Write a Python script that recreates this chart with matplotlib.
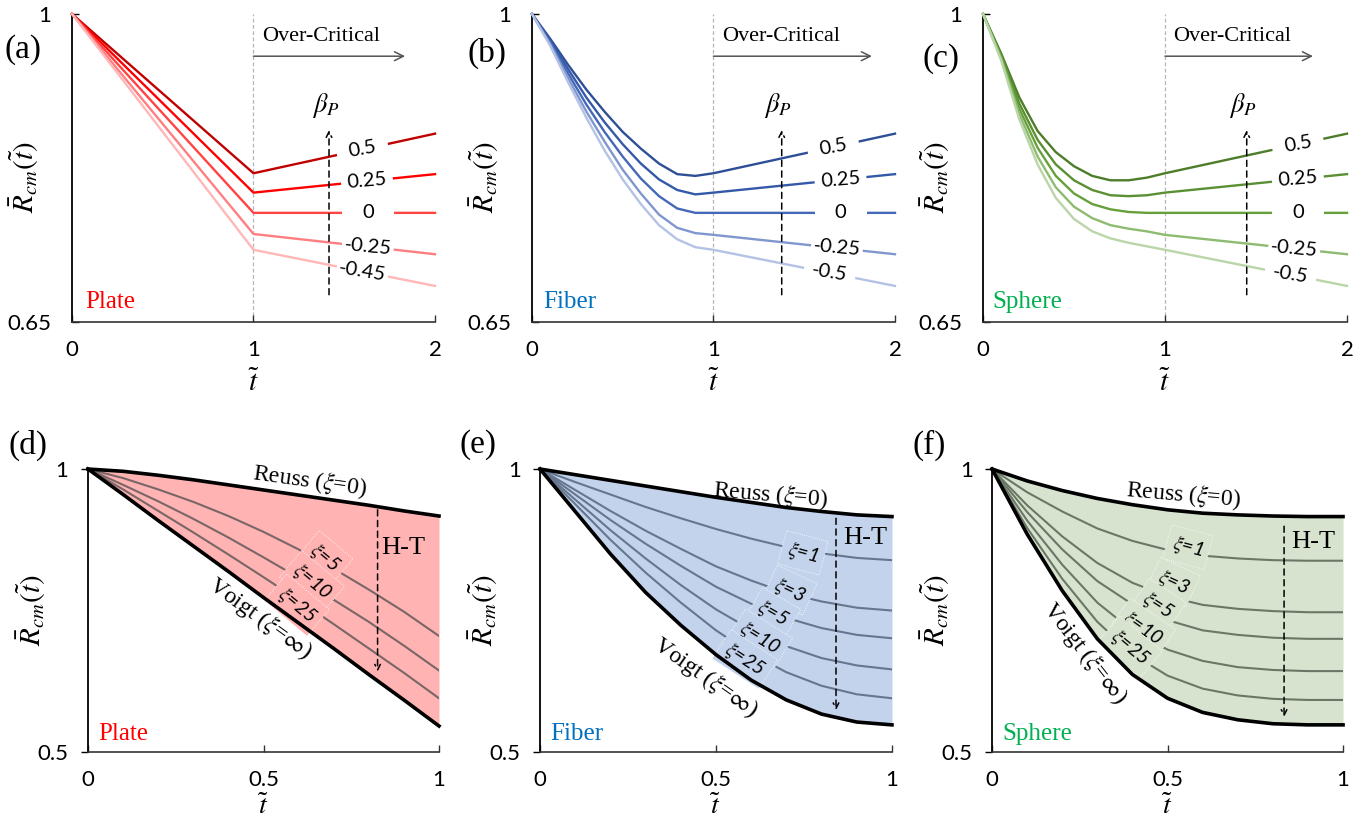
import numpy as np
import matplotlib.pyplot as plt
from matplotlib.path import Path

plt.rcParams['font.family'] = ['Lato', 'DejaVu Sans']
plt.rcParams['mathtext.fontset'] = 'stix'
SERIF = 'Liberation Serif'

# ---------------- top row: effect of beta_P ----------------
beta_plate = ['0.5', '0.25', '0', '-0.25', '-0.45']
beta_other = ['0.5', '0.25', '0', '-0.25', '-0.5']

t_plate = [0, 1, 2]
plate_beta_curves = [
    [1, 0.819, 0.864],
    [1, 0.797, 0.818],
    [1, 0.774, 0.774],
    [1, 0.750, 0.727],
    [1, 0.732, 0.691],
]

t_curve = [0, 0.1, 0.2, 0.3, 0.4, 0.5, 0.6, 0.7, 0.8, 0.9, 1.0, 2.0]
fiber_beta_curves = [
    [1, 0.972, 0.942, 0.914, 0.889, 0.866, 0.847, 0.830, 0.818, 0.816, 0.819, 0.864],
    [1, 0.970, 0.937, 0.905, 0.877, 0.852, 0.830, 0.812, 0.800, 0.795, 0.797, 0.818],
    [1, 0.968, 0.932, 0.897, 0.866, 0.838, 0.813, 0.793, 0.779, 0.774, 0.774, 0.774],
    [1, 0.966, 0.927, 0.889, 0.855, 0.823, 0.796, 0.772, 0.757, 0.751, 0.749, 0.727],
    [1, 0.964, 0.922, 0.882, 0.845, 0.812, 0.784, 0.760, 0.744, 0.735, 0.732, 0.691],
]
sphere_beta_curves = [
    [1, 0.955, 0.905, 0.867, 0.843, 0.827, 0.816, 0.811, 0.811, 0.814, 0.819, 0.864],
    [1, 0.953, 0.898, 0.857, 0.829, 0.811, 0.800, 0.794, 0.793, 0.794, 0.797, 0.818],
    [1, 0.951, 0.892, 0.848, 0.816, 0.796, 0.784, 0.778, 0.775, 0.774, 0.774, 0.774],
    [1, 0.949, 0.886, 0.838, 0.803, 0.781, 0.768, 0.760, 0.756, 0.753, 0.749, 0.727],
    [1, 0.947, 0.880, 0.829, 0.791, 0.767, 0.753, 0.745, 0.740, 0.736, 0.732, 0.691],
]

# ---------------- bottom row: Reuss / Voigt bounds ----------------
t_bound = [0, 0.1, 0.2, 0.3, 0.4, 0.5, 0.6, 0.7, 0.8, 0.9, 1.0]

plate_reuss = [1, 0.996, 0.989, 0.981, 0.972, 0.963, 0.954, 0.945, 0.936, 0.926, 0.917]
plate_voigt = [1, 0.955, 0.909, 0.864, 0.819, 0.773, 0.728, 0.683, 0.637, 0.592, 0.546]
plate_xi_names = ['5', '10', '25']
plate_xi = [
    [1, 0.984, 0.964, 0.942, 0.917, 0.889, 0.858, 0.824, 0.787, 0.748, 0.705],
    [1, 0.972, 0.943, 0.912, 0.879, 0.844, 0.808, 0.769, 0.730, 0.688, 0.644],
    [1, 0.964, 0.926, 0.888, 0.849, 0.809, 0.768, 0.726, 0.683, 0.640, 0.595],
]

fiber_reuss = [1, 0.990, 0.980, 0.970, 0.960, 0.950, 0.941, 0.932, 0.925, 0.919, 0.916]
fiber_voigt = [1, 0.925, 0.850, 0.782, 0.724, 0.672, 0.627, 0.592, 0.567, 0.553, 0.548]
fiber_xi_names = ['1', '3', '5', '10', '25']
fiber_xi = [
    [1, 0.977, 0.955, 0.933, 0.913, 0.894, 0.877, 0.862, 0.851, 0.843, 0.839],
    [1, 0.963, 0.926, 0.891, 0.859, 0.828, 0.803, 0.781, 0.766, 0.755, 0.750],
    [1, 0.955, 0.910, 0.868, 0.829, 0.792, 0.762, 0.737, 0.719, 0.707, 0.701],
    [1, 0.946, 0.892, 0.842, 0.795, 0.752, 0.716, 0.687, 0.666, 0.653, 0.646],
    [1, 0.938, 0.875, 0.817, 0.764, 0.715, 0.674, 0.641, 0.617, 0.602, 0.595],
]

sphere_reuss = [1, 0.979, 0.962, 0.948, 0.937, 0.928, 0.922, 0.919, 0.917, 0.916, 0.916]
sphere_voigt = [1, 0.885, 0.785, 0.700, 0.637, 0.595, 0.570, 0.557, 0.550, 0.548, 0.548]
sphere_xi_names = ['1', '3', '5', '10', '25']
sphere_xi = [
    [1, 0.959, 0.925, 0.895, 0.873, 0.857, 0.847, 0.842, 0.839, 0.838, 0.838],
    [1, 0.936, 0.881, 0.834, 0.799, 0.775, 0.760, 0.753, 0.749, 0.747, 0.747],
    [1, 0.924, 0.858, 0.802, 0.761, 0.733, 0.715, 0.707, 0.702, 0.700, 0.700],
    [1, 0.909, 0.831, 0.764, 0.714, 0.681, 0.661, 0.650, 0.645, 0.643, 0.643],
    [1, 0.896, 0.806, 0.730, 0.673, 0.635, 0.612, 0.600, 0.594, 0.592, 0.592],
]

red_shades = ['#C00000', '#FF0000', '#FF4444', '#FF7F80', '#FFB7B7']
blue_shades = ['#2E4F96', '#3459A8', '#4468B8', '#7F97CE', '#B4C2E4']
green_shades = ['#4E7D2A', '#5A8F33', '#66A03B', '#8DBB70', '#BAD5A7']


def gap_box(x0, y0, width, height, mutation_size):
    # fixed-width white box that breaks the line behind a label
    cx = x0 + width / 2
    half = 26
    return Path([(cx - half, y0 + 3), (cx + half, y0 + 3),
                 (cx + half, y0 + height - 3), (cx - half, y0 + height - 3),
                 (cx - half, y0 + 3)], closed=True)


fig = plt.figure(figsize=(13.71, 8.21), dpi=100)


def style_axes(ax, xticks, xlabels, yticks, ylabels, ydir, ypad):
    for s in ['top', 'right']:
        ax.spines[s].set_visible(False)
    ax.spines['left'].set_linewidth(1.3)
    ax.spines['left'].set_color('black')
    ax.spines['bottom'].set_linewidth(1.2)
    ax.spines['bottom'].set_color('#333333')
    ax.set_xticks(xticks)
    ax.set_xticklabels(xlabels)
    ax.set_yticks(yticks)
    ax.set_yticklabels(ylabels)
    ax.tick_params(axis='x', direction='in', length=5, width=1, pad=13, labelsize=16, color='#333333')
    ax.tick_params(axis='y', direction=ydir, length=5, width=1, pad=ypad, labelsize=16)


def top_panel(rect, t, curves, labels, colors, label_t, arrow_x, over_end,
              name, name_color, name_x, letter, letter_xy):
    ax = fig.add_axes(rect)
    ax.set_xlim(0, 2)
    ax.set_ylim(0.65, 1)
    style_axes(ax, [0, 1, 2], ['0', '1', '2'], [0.65, 1], ['0.65', '1'], 'in', 15)
    ax.axvline(1, color='#b5b5b5', ls=(0, (3, 2)), lw=0.9, zorder=1)
    for curve, lab, c, tl in zip(curves, labels, colors, label_t):
        ax.plot(t, curve, color=c, lw=1.7, zorder=3, clip_on=False)
        v = np.interp(tl, t, curve)
        ang = np.degrees(np.arctan2(curve[-1] - curve[-2], t[-1] - t[-2]))
        ang = ax.transData.transform_angles(np.array([ang]), np.array([[tl, v]]))[0]
        ax.text(tl, v, lab, rotation=ang * 0.85, rotation_mode='anchor', ha='center', va='center',
                fontsize=14.5, zorder=5,
                bbox=dict(boxstyle=gap_box, fc='white', ec='none'))
    ax.annotate('', xy=(arrow_x, 0.868), xytext=(arrow_x, 0.681),
                arrowprops=dict(arrowstyle='->', ls=(0, (4, 3)), color='black', lw=1.1,
                                shrinkA=0, shrinkB=0), zorder=4)
    ax.text(arrow_x - 0.02, 0.880, r'$\beta_P$', fontsize=19, ha='center', va='bottom')
    ax.annotate('', xy=(over_end, 0.952), xytext=(1, 0.952),
                arrowprops=dict(arrowstyle='->', color='#555555', lw=1.1,
                                shrinkA=0, shrinkB=0, mutation_scale=16))
    ax.text(1.045, 0.974, 'Over-Critical', family=SERIF, fontsize=16, ha='left', va='center')
    ax.text(name_x, 0.673, name, family=SERIF, fontsize=18, color=name_color, ha='left', va='center')
    ax.set_xlabel(r'$\tilde{t}$', fontsize=21)
    ax.xaxis.set_label_coords(0.5, -0.15)
    ax.set_ylabel(r'$\bar{R}_{cm}(\tilde{t})$', fontsize=21)
    ax.yaxis.set_label_coords(-0.085, 0.47)
    fig.text(letter_xy[0], letter_xy[1], letter, family=SERIF, fontsize=24, ha='center', va='center')
    return ax


def bottom_panel(rect, reuss, voigt, xi, xi_names, fill, gray, xi_pos, xi_rot,
                 reuss_pos, reuss_rot, voigt_pos, voigt_rot, ht_x, ht_y, ht_text,
                 name, name_color, letter, letter_xy):
    ax = fig.add_axes(rect)
    ax.set_xlim(0, 1)
    ax.set_ylim(0.5, 1)
    style_axes(ax, [0, 0.5, 1], ['0', '0.5', '1'], [0.5, 1], ['0.5', '1'], 'out', 9)
    ax.fill_between(t_bound, voigt, reuss, color=fill, lw=0, zorder=1)
    for curve in xi:
        ax.plot(t_bound, curve, color=gray, lw=1.5, zorder=2)
    ax.plot(t_bound, reuss, color='black', lw=2.6, zorder=3, clip_on=False)
    ax.plot(t_bound, voigt, color='black', lw=2.6, zorder=3, clip_on=False)
    for nm, (px, py), r in zip(xi_names, xi_pos, xi_rot):
        ax.text(px, py, r'$\xi$=' + nm, fontsize=14, style='italic', rotation=r,
                rotation_mode='anchor', ha='center', va='center', zorder=2.5,
                bbox=dict(boxstyle='square,pad=0.3', fc=fill, ec='white', lw=0.6, ls=':'))
    ax.text(reuss_pos[0], reuss_pos[1], r'Reuss ($\xi$=0)', family=SERIF, fontsize=17,
            rotation=reuss_rot, rotation_mode='anchor', ha='center', va='center')
    ax.text(voigt_pos[0], voigt_pos[1], r'Voigt ($\xi$=$\infty$)', family=SERIF, fontsize=17,
            rotation=voigt_rot, rotation_mode='anchor', ha='center', va='center')
    ax.annotate('', xy=(ht_x, ht_y[1]), xytext=(ht_x, ht_y[0]),
                arrowprops=dict(arrowstyle='->', ls=(0, (4, 3)), color='black', lw=1.1,
                                shrinkA=0, shrinkB=0), zorder=5)
    ax.text(ht_text[0], ht_text[1], 'H-T', family=SERIF, fontsize=19, ha='center', va='center')
    ax.text(0.03, 0.532, name, family=SERIF, fontsize=18, color=name_color, ha='left', va='center')
    ax.set_xlabel(r'$\tilde{t}$', fontsize=20)
    ax.xaxis.set_label_coords(0.5, -0.145)
    ax.set_ylabel(r'$\bar{R}_{cm}(\tilde{t})$', fontsize=21)
    ax.yaxis.set_label_coords(-0.115, 0.5)
    fig.text(letter_xy[0], letter_xy[1], letter, family=SERIF, fontsize=24, ha='center', va='center')
    return ax


top_panel([0.0525, 0.6078, 0.2648, 0.3752], t_plate, plate_beta_curves, beta_plate, red_shades,
          [1.60, 1.625, 1.63, 1.63, 1.60], 1.416, 1.835, 'Plate', '#FF0000', 0.072,
          '(a)', (0.0168, 0.939))
top_panel([0.3880, 0.6078, 0.2648, 0.3752], t_curve, fiber_beta_curves, beta_other, blue_shades,
          [1.66, 1.70, 1.70, 1.68, 1.64], 1.376, 1.873, 'Fiber', '#0070C0', 0.061,
          '(b)', (0.355, 0.935))
top_panel([0.7170, 0.6078, 0.2655, 0.3752], t_curve, sphere_beta_curves, beta_other, green_shades,
          [1.73, 1.73, 1.73, 1.71, 1.69], 1.449, 1.813, 'Sphere', '#00B050', 0.049,
          '(c)', (0.686, 0.929))

bottom_panel([0.0642, 0.0840, 0.2560, 0.3447], plate_reuss, plate_voigt, plate_xi, plate_xi_names,
             '#FFB3B3', '#7a6666',
             [(0.675, 0.843), (0.638, 0.801), (0.595, 0.760)], [-40, -40, -40],
             (0.632, 0.979), -8, (0.49, 0.737), -36,
             0.825, (0.928, 0.642), (0.897, 0.860), 'Plate', '#FF0000', '(d)', (0.0204, 0.458))
bottom_panel([0.3939, 0.0840, 0.2567, 0.3447], fiber_reuss, fiber_voigt, fiber_xi, fiber_xi_names,
             '#C3D3EC', '#66768e',
             [(0.747, 0.852), (0.710, 0.786), (0.662, 0.745), (0.625, 0.701), (0.582, 0.664)],
             [-15, -25, -30, -32, -33],
             (0.656, 0.954), -5, (0.472, 0.633), -35,
             0.841, (0.913, 0.574), (0.923, 0.878), 'Fiber', '#0070C0', '(e)', (0.349, 0.458))
bottom_panel([0.7236, 0.0840, 0.2560, 0.3447], sphere_reuss, sphere_voigt, sphere_xi, sphere_xi_names,
             '#D8E3CF', '#6b7766',
             [(0.558, 0.862), (0.516, 0.800), (0.473, 0.760), (0.430, 0.719), (0.393, 0.686)],
             [-15, -25, -33, -35, -40],
             (0.544, 0.954), -5, (0.265, 0.675), -52,
             0.832, (0.899, 0.562), (0.915, 0.871), 'Sphere', '#00B050', '(f)', (0.678, 0.458))

fig.savefig('out.png', dpi=100)
